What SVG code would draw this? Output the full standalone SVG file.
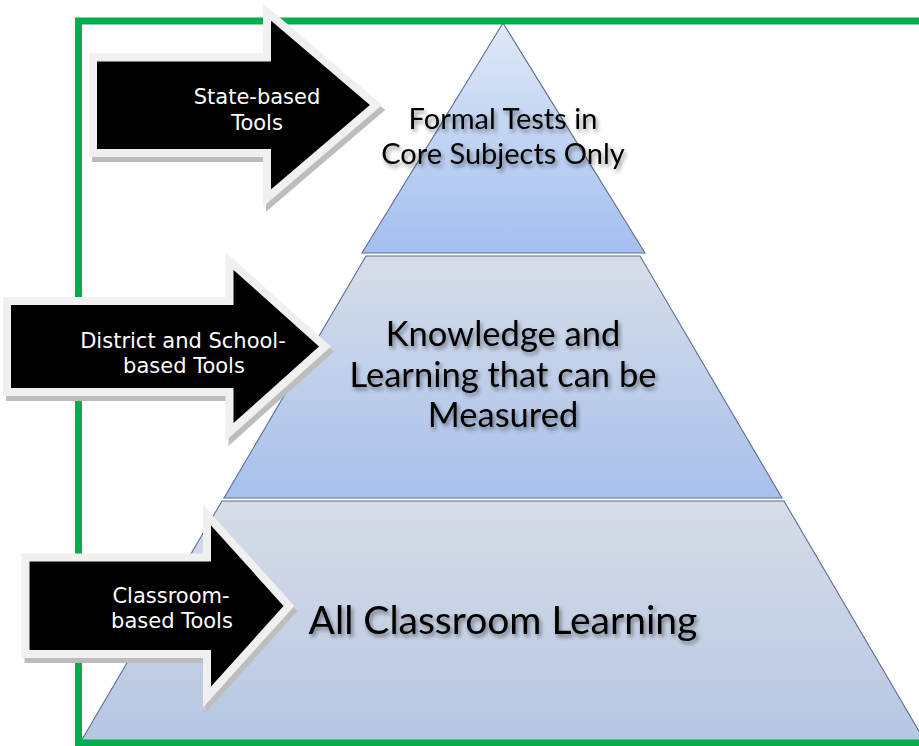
<svg xmlns="http://www.w3.org/2000/svg" width="919" height="746" viewBox="0 0 919 746">
<defs>
<linearGradient id="gTop" x1="0" y1="0" x2="0" y2="1">
<stop offset="0" stop-color="#dfe8f6"/>
<stop offset="1" stop-color="#a3bff0"/>
</linearGradient>
<linearGradient id="gMid" x1="0" y1="0" x2="0" y2="1">
<stop offset="0" stop-color="#d8dee9"/>
<stop offset="1" stop-color="#a8c0ec"/>
</linearGradient>
<linearGradient id="gBot" x1="0" y1="0" x2="0" y2="1">
<stop offset="0" stop-color="#d7dde8"/>
<stop offset="1" stop-color="#b7c6e3"/>
</linearGradient>
<filter id="tshadow" x="-20%" y="-40%" width="140%" height="180%">
<feGaussianBlur in="SourceAlpha" stdDeviation="2.2"/>
<feOffset dx="1.5" dy="2.5" result="b"/>
<feComponentTransfer><feFuncA type="linear" slope="0.45"/></feComponentTransfer>
<feMerge><feMergeNode/><feMergeNode in="SourceGraphic"/></feMerge>
</filter>
<style>
.tier{stroke:#5f6f8c;stroke-width:1.1;stroke-linejoin:miter}
.arrow{fill:#000;stroke:#f0f0f0;stroke-width:8;stroke-linejoin:miter;stroke-miterlimit:10}
.ashadow{fill:#bdbdbd;stroke:#bdbdbd;stroke-width:8;stroke-linejoin:miter;stroke-miterlimit:10}
.alabel{font-family:"DejaVu Sans",Verdana,sans-serif;font-size:21px;fill:#fff;text-anchor:middle}
.plabel{font-family:Lato,"Open Sans",sans-serif;fill:#000;text-anchor:middle}
</style>
</defs>
<rect width="919" height="746" fill="#fff"/>

<g id="tier-bottom">
<polygon class="tier" points="222,501 784,501 926,743 80,743" fill="url(#gBot)"/>
<text class="plabel" x="503" y="634" font-size="39" filter="url(#tshadow)">All Classroom Learning</text>
</g>
<g id="tier-middle">
<polygon class="tier" points="366,256 640,256 782,498 224,498" fill="url(#gMid)"/>
<text class="plabel" x="503" y="346" font-size="34.5" filter="url(#tshadow)">Knowledge and</text>
<text class="plabel" x="503" y="387" font-size="34.5" filter="url(#tshadow)">Learning that can be</text>
<text class="plabel" x="503" y="427" font-size="34.5" filter="url(#tshadow)">Measured</text>
</g>
<g id="tier-top">
<polygon class="tier" points="503,23 645,253 362,253" fill="url(#gTop)"/>
<text class="plabel" x="503" y="129" font-size="29" filter="url(#tshadow)">Formal Tests in</text>
<text class="plabel" x="503" y="164" font-size="29" filter="url(#tshadow)">Core Subjects Only</text>
</g>

<g id="frame">
<rect x="78.5" y="21" width="900" height="722" fill="none" stroke="#00ae4f" stroke-width="7"/>
</g>

<g id="arrow-state">
<path class="ashadow" transform="translate(3,5)" d="M93,57.5 L267,57.5 L267,12 L376,105 L267,198 L267,153 L93,153 Z"/>
<path class="arrow" d="M93,57.5 L267,57.5 L267,12 L376,105 L267,198 L267,153 L93,153 Z"/>
<text class="alabel" x="257" y="104">State-based</text>
<text class="alabel" x="257" y="130">Tools</text>
</g>
<g id="arrow-district">
<path class="ashadow" transform="translate(3,5)" d="M7,301 L229.5,301 L229.5,261 L325,346.5 L229.5,432 L229.5,392 L7,392 Z"/>
<path class="arrow" d="M7,301 L229.5,301 L229.5,261 L325,346.5 L229.5,432 L229.5,392 L7,392 Z"/>
<text class="alabel" x="183" y="348">District and School-</text>
<text class="alabel" x="184" y="373">based Tools</text>
</g>
<g id="arrow-classroom">
<path class="ashadow" transform="translate(3,5)" d="M25.5,557.5 L207,557.5 L207,515 L289,606 L207,697 L207,654 L25.5,654 Z"/>
<path class="arrow" d="M25.5,557.5 L207,557.5 L207,515 L289,606 L207,697 L207,654 L25.5,654 Z"/>
<text class="alabel" x="171" y="603">Classroom-</text>
<text class="alabel" x="172" y="628">based Tools</text>
</g>
</svg>
